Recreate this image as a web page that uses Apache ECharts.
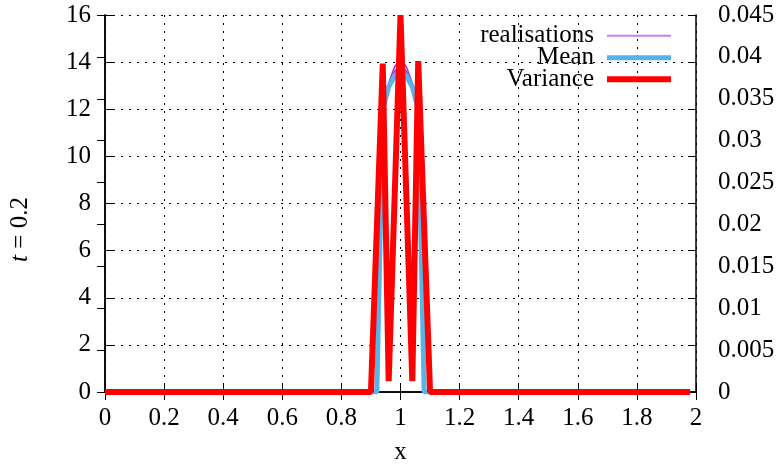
<!DOCTYPE html>
<html>
<head>
<meta charset="utf-8">
<script src="https://cdn.jsdelivr.net/npm/echarts@6/dist/echarts.min.js"></script>
<style>html,body{margin:0;padding:0;background:#fff;overflow:hidden}#c{width:781px;height:470px}</style>
</head>
<body>
<div id="c"></div>
<script>
// ---- data ----
const realX = [0, 0.92, 0.94, 0.96, 0.98, 1.0, 1.02, 1.04, 1.06, 1.08, 1.98];
const realY1 = [0, 0, 12.1, 13.1, 13.8, 14.1, 13.8, 13.1, 12.1, 0, 0];
const realY2 = [0, 0, 11.9, 12.9, 13.6, 13.9, 13.6, 12.9, 11.9, 0, 0];
const meanX = [0, 0.92, 0.94, 0.96, 0.98, 1.0, 1.02, 1.04, 1.06, 1.08, 1.98];
const meanY = [0, 0, 12.0, 12.95, 13.4, 13.6, 13.4, 12.95, 12.0, 0, 0];
const varX = [0, 0.90, 0.94, 0.96, 1.0, 1.04, 1.06, 1.10, 1.98];
const varY = [0, 0, 0.0392, 0.0013, 0.0450, 0.0013, 0.0395, 0, 0];
const seriesNames = ['realisations', 'Mean', 'Variance'];
const xAxisName = 'x';
const yAxisName = '{i|t} = 0.2';

const FONT = 'Liberation Serif';
const FS = 25;
const pair = (xs, ys) => xs.map((x, i) => [x, ys[i]]);

const chart = echarts.init(document.getElementById('c'), null, {renderer: 'canvas'});
const grid = {left: 105, right: 85, top: 15, bottom: 66};
const dotted = {show: true, lineStyle: {color: '#000', width: 1, type: [2, 6]}};
const border = {show: true, lineStyle: {color: '#000', width: 1.5}};
const tick = {show: true, inside: true, length: 8, lineStyle: {color: '#000', width: 1}};
const lbl = {color: '#000', fontFamily: FONT, fontSize: FS};

function legendFor(name, top, h, color) {
  return {
    data: [{name: name, icon: 'rect', itemStyle: {color: color}}],
    right: 110, top: top, padding: 0,
    itemWidth: 64, itemHeight: h, align: 'right',
    selectedMode: false,
    textStyle: {color: '#000', fontFamily: FONT, fontSize: FS, lineHeight: 24, padding: [4, 8, 0, 0]}
  };
}

const realStyle = {color: '#9a2fe0', width: 1.5};
chart.setOption({
  animation: false,
  backgroundColor: '#fff',
  grid: grid,
  legend: [
    legendFor(seriesNames[0], 35.7 - 14, 2, '#c27ff0'),
    legendFor(seriesNames[1], 57.7 - 14, 5, '#56b4e9'),
    legendFor(seriesNames[2], 79.3 - 14, 6, '#ff0000')
  ],
  xAxis: [{
    type: 'value', min: 0, max: 2, interval: 0.2, position: 'bottom',
    name: xAxisName, nameLocation: 'middle', nameGap: 48,
    nameTextStyle: {color: '#000', fontFamily: FONT, fontSize: FS},
    axisLine: border, axisTick: tick, splitLine: dotted,
    axisLabel: Object.assign({margin: 14, formatter: v => String(+v.toFixed(1))}, lbl)
  }, {
    type: 'value', min: 0, max: 2, interval: 0.2, position: 'top',
    axisLine: border, axisTick: tick, splitLine: {show: false}, axisLabel: {show: false}
  }],
  yAxis: [{
    type: 'value', min: 0, max: 16, interval: 2, position: 'left',
    name: yAxisName, nameLocation: 'middle', nameGap: 72, nameRotate: 90,
    nameTextStyle: {color: '#000', fontFamily: FONT, fontSize: FS, padding: [0, 52, 0, 0],
      rich: {i: {fontStyle: 'italic', fontFamily: FONT, fontSize: FS, color: '#000'}}},
    axisLine: border, axisTick: tick, splitLine: dotted,
    axisLabel: Object.assign({margin: 14}, lbl)
  }, {
    type: 'value', min: 0, max: 0.045, interval: 0.005, position: 'right',
    axisLine: border, axisTick: tick, splitLine: {show: false},
    axisLabel: Object.assign({margin: 22, formatter: v => String(+v.toFixed(3))}, lbl)
  }, {
    type: 'value', min: 0, max: 16, interval: 2, position: 'right',
    axisLine: border, axisTick: tick, splitLine: {show: false}, axisLabel: {show: false}
  }],
  series: [{
    name: seriesNames[0], type: 'line', xAxisIndex: 0, yAxisIndex: 0,
    data: pair(realX, realY1), showSymbol: false, symbol: 'none', z: 3,
    lineStyle: realStyle, itemStyle: {color: '#c27ff0'}
  }, {
    name: seriesNames[0], type: 'line', xAxisIndex: 0, yAxisIndex: 0,
    data: pair(realX, realY2), showSymbol: false, symbol: 'none', z: 3,
    lineStyle: realStyle, itemStyle: {color: '#c27ff0'}
  }, {
    name: seriesNames[1], type: 'line', xAxisIndex: 0, yAxisIndex: 0,
    data: pair(meanX, meanY), showSymbol: false, symbol: 'none', z: 4,
    lineStyle: {color: '#56b4e9', width: 5}, itemStyle: {color: '#56b4e9'}
  }, {
    name: seriesNames[2], type: 'line', xAxisIndex: 0, yAxisIndex: 1,
    data: pair(varX, varY), showSymbol: false, symbol: 'none', z: 5, clip: false,
    lineStyle: {color: '#ff0000', width: 6, join: 'bevel'}, itemStyle: {color: '#ff0000'}
  }]
});
</script>
</body>
</html>
